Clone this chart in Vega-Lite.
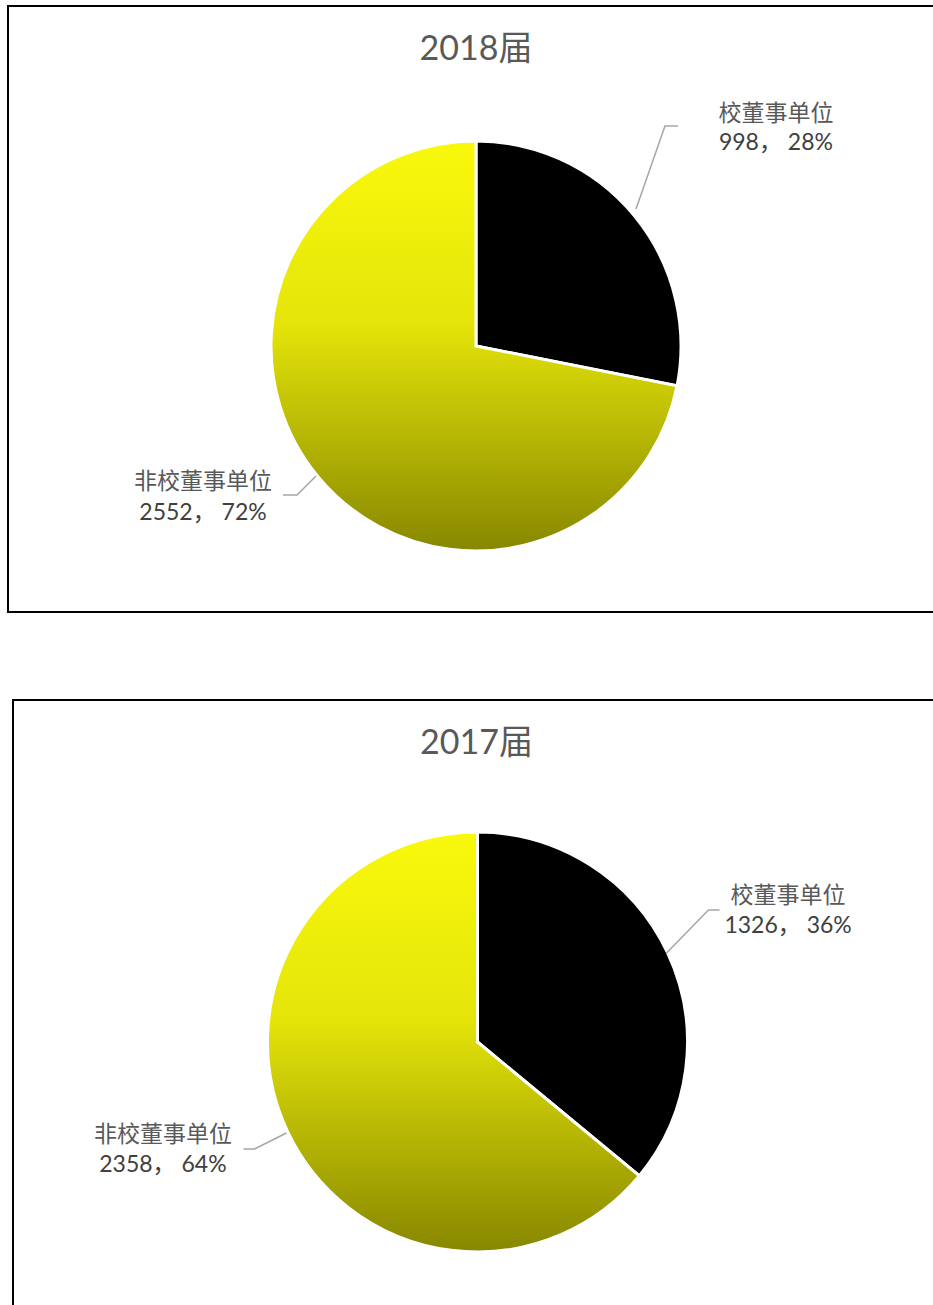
{
  "$schema": "https://vega.github.io/schema/vega-lite/v6.json",
  "padding": {"left": 7, "top": 5, "right": 0, "bottom": 0},
  "background": "white",
  "spacing": 88,
  "bounds": "flush",
  "config": {
    "view": {"stroke": null},
    "font": "Lato, Noto Sans CJK SC",
    "title": {"fontSize": 34, "fontWeight": "normal", "color": "#595959", "font": "Lato, Noto Sans CJK SC"}
  },
  "datasets": {
    "d": [
      {"year": "2018届", "cat": "校董事单位", "ord": 1, "value": 998, "label": "998， 28%"},
      {"year": "2018届", "cat": "非校董事单位", "ord": 2, "value": 2552, "label": "2552， 72%"},
      {"year": "2017届", "cat": "校董事单位", "ord": 1, "value": 1326, "label": "1326， 36%"},
      {"year": "2017届", "cat": "非校董事单位", "ord": 2, "value": 2358, "label": "2358， 64%"}
    ]
  },
  "vconcat": [
    {
      "width": 930,
      "height": 606,
      "title": {"text": "2018届", "offset": -62, "dx": 3},
      "data": {"name": "d"},
      "transform": [{"filter": "datum.year === '2018届'"}],
      "layer": [
        {
          "transform": [{"filter": "datum.cat === '校董事单位'"}],
          "mark": {"type": "rect", "filled": false, "stroke": "black", "strokeWidth": 2, "opacity": 1},
          "encoding": {}
        },
        {
          "mark": {"type": "arc", "radius": 205, "stroke": "white", "strokeWidth": 3, "xOffset": 3, "yOffset": 37},
          "encoding": {
            "theta": {"field": "value", "type": "quantitative", "stack": true},
            "order": {"field": "ord", "type": "quantitative"},
            "fill": {
              "condition": {"test": "datum.cat === '校董事单位'", "value": "black"},
              "value": {"gradient": "linear", "x1": 0, "y1": 0, "x2": 0, "y2": 1,
                "stops": [{"offset": 0, "color": "#f9f90c"}, {"offset": 0.45, "color": "#e4e40a"}, {"offset": 1, "color": "#878700"}]}
            }
          }
        },
        {
          "mark": {"type": "text", "radius": 370, "dx": 14, "dy": 3, "xOffset": 3, "yOffset": 37, "fontSize": 23, "color": "#595959"},
          "encoding": {
            "theta": {"field": "value", "type": "quantitative", "stack": true},
            "order": {"field": "ord", "type": "quantitative"},
            "text": {"condition": {"test": "datum.cat === '校董事单位'", "field": "cat"}, "value": ""}
          }
        },
        {
          "mark": {"type": "text", "radius": 370, "dx": 14, "dy": 32, "xOffset": 3, "yOffset": 37, "fontSize": 23, "color": "#404040"},
          "encoding": {
            "theta": {"field": "value", "type": "quantitative", "stack": true},
            "order": {"field": "ord", "type": "quantitative"},
            "text": {"condition": {"test": "datum.cat === '校董事单位'", "field": "label"}, "value": ""}
          }
        },
        {
          "mark": {"type": "text", "radius": 330, "dx": -18, "dy": -73, "xOffset": 3, "yOffset": 37, "fontSize": 23, "color": "#595959"},
          "encoding": {
            "theta": {"field": "value", "type": "quantitative", "stack": true},
            "order": {"field": "ord", "type": "quantitative"},
            "text": {"condition": {"test": "datum.cat === '非校董事单位'", "field": "cat"}, "value": ""}
          }
        },
        {
          "mark": {"type": "text", "radius": 330, "dx": -18, "dy": -42, "xOffset": 3, "yOffset": 37, "fontSize": 23, "color": "#404040"},
          "encoding": {
            "theta": {"field": "value", "type": "quantitative", "stack": true},
            "order": {"field": "ord", "type": "quantitative"},
            "text": {"condition": {"test": "datum.cat === '非校董事单位'", "field": "label"}, "value": ""}
          }
        },
        {
          "transform": [{"filter": "datum.cat === '校董事单位'"}],
          "mark": {"type": "point", "shape": "M1.60,-1.37L1.89,-2.20L2.02,-2.20", "size": 40000, "filled": false, "stroke": "#a6a6a6", "strokeWidth": 1.5, "opacity": 1, "xOffset": 3, "yOffset": 37},
          "encoding": {}
        },
        {
          "transform": [{"filter": "datum.cat === '非校董事单位'"}],
          "mark": {"type": "point", "shape": "M-1.60,1.30L-1.79,1.49L-1.93,1.49", "size": 40000, "filled": false, "stroke": "#a6a6a6", "strokeWidth": 1.5, "opacity": 1, "xOffset": 3, "yOffset": 37},
          "encoding": {}
        }
      ]
    },
    {
      "spacing": 4,
      "bounds": "flush",
      "hconcat": [
        {
          "width": 1,
          "height": 10,
          "data": {"name": "d"},
          "transform": [{"filter": "datum.year === '2017届' && datum.ord === 1"}],
          "mark": {"type": "point", "opacity": 0, "size": 0, "strokeWidth": 0},
          "encoding": {}
        },
        {
          "width": 925,
          "height": 612,
          "title": {"text": "2017届", "offset": -62, "dx": 1},
          "data": {"name": "d"},
          "transform": [{"filter": "datum.year === '2017届'"}],
          "layer": [
            {
              "transform": [{"filter": "datum.cat === '校董事单位'"}],
              "mark": {"type": "rect", "filled": false, "stroke": "black", "strokeWidth": 2, "opacity": 1},
              "encoding": {}
            },
            {
              "mark": {"type": "arc", "radius": 210, "stroke": "white", "strokeWidth": 3, "xOffset": 2, "yOffset": 36},
              "encoding": {
                "theta": {"field": "value", "type": "quantitative", "stack": true},
                "order": {"field": "ord", "type": "quantitative"},
                "fill": {
                  "condition": {"test": "datum.cat === '校董事单位'", "value": "black"},
                  "value": {"gradient": "linear", "x1": 0, "y1": 0, "x2": 0, "y2": 1,
                    "stops": [{"offset": 0, "color": "#f9f90c"}, {"offset": 0.45, "color": "#e4e40a"}, {"offset": 1, "color": "#878700"}]}
                }
              }
            },
            {
              "mark": {"type": "text", "radius": 340, "dx": 3, "dy": -1, "xOffset": 2, "yOffset": 36, "fontSize": 23, "color": "#595959"},
              "encoding": {
                "theta": {"field": "value", "type": "quantitative", "stack": true},
                "order": {"field": "ord", "type": "quantitative"},
                "text": {"condition": {"test": "datum.cat === '校董事单位'", "field": "cat"}, "value": ""}
              }
            },
            {
              "mark": {"type": "text", "radius": 340, "dx": 3, "dy": 29, "xOffset": 2, "yOffset": 36, "fontSize": 23, "color": "#404040"},
              "encoding": {
                "theta": {"field": "value", "type": "quantitative", "stack": true},
                "order": {"field": "ord", "type": "quantitative"},
                "text": {"condition": {"test": "datum.cat === '校董事单位'", "field": "label"}, "value": ""}
              }
            },
            {
              "mark": {"type": "text", "radius": 340, "dx": -7, "dy": -52, "xOffset": 2, "yOffset": 36, "fontSize": 23, "color": "#595959"},
              "encoding": {
                "theta": {"field": "value", "type": "quantitative", "stack": true},
                "order": {"field": "ord", "type": "quantitative"},
                "text": {"condition": {"test": "datum.cat === '非校董事单位'", "field": "cat"}, "value": ""}
              }
            },
            {
              "mark": {"type": "text", "radius": 340, "dx": -7, "dy": -22, "xOffset": 2, "yOffset": 36, "fontSize": 23, "color": "#404040"},
              "encoding": {
                "theta": {"field": "value", "type": "quantitative", "stack": true},
                "order": {"field": "ord", "type": "quantitative"},
                "text": {"condition": {"test": "datum.cat === '非校董事单位'", "field": "label"}, "value": ""}
              }
            },
            {
              "transform": [{"filter": "datum.cat === '校董事单位'"}],
              "mark": {"type": "point", "shape": "M1.89,-0.89L2.31,-1.32L2.42,-1.32", "size": 40000, "filled": false, "stroke": "#a6a6a6", "strokeWidth": 1.5, "opacity": 1, "xOffset": 2, "yOffset": 36},
              "encoding": {}
            },
            {
              "transform": [{"filter": "datum.cat === '非校董事单位'"}],
              "mark": {"type": "point", "shape": "M-1.91,0.91L-2.23,1.07L-2.34,1.07", "size": 40000, "filled": false, "stroke": "#a6a6a6", "strokeWidth": 1.5, "opacity": 1, "xOffset": 2, "yOffset": 36},
              "encoding": {}
            }
          ]
        }
      ]
    }
  ]
}
